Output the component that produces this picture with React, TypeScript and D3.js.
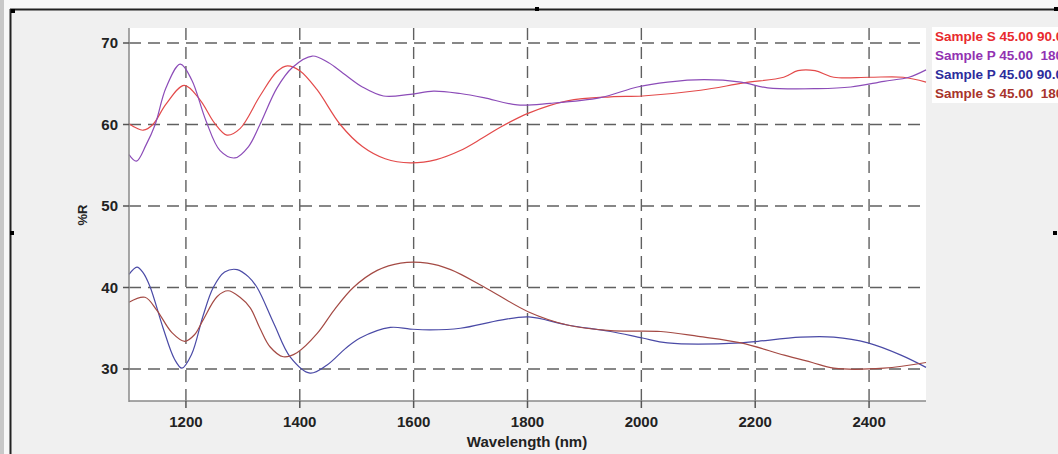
import React from 'react';
import * as d3 from 'd3';

// wavelength (nm), %R pairs
const sampleS90: [number, number][] = [
  [1100, 60.1], [1112, 59.6], [1125, 59.3], [1142, 60.0], [1165, 62.5], [1197, 64.8], [1225, 63.0],
  [1250, 60.2], [1272, 58.7], [1295, 59.5], [1330, 63.5], [1360, 66.5], [1378, 67.2], [1400, 66.6],
  [1430, 64.3], [1471, 60.0], [1510, 57.3], [1550, 55.8], [1594, 55.3], [1640, 55.7], [1682, 56.8],
  [1720, 58.3], [1753, 59.7], [1802, 61.4], [1870, 62.9], [1946, 63.4], [2002, 63.5], [2104, 64.2],
  [2180, 65.1], [2250, 65.8], [2275, 66.6], [2305, 66.6], [2338, 65.8], [2400, 65.8], [2460, 65.8],
  [2500, 65.2],
];

const sampleP180: [number, number][] = [
  [1100, 56.3], [1113, 55.5], [1130, 57.5], [1146, 60.0], [1165, 64.5], [1190, 67.4], [1210, 65.5],
  [1235, 60.5], [1260, 56.8], [1286, 55.9], [1310, 57.3], [1330, 60.0], [1360, 64.5], [1387, 67.0],
  [1422, 68.4], [1450, 67.6], [1476, 66.3], [1510, 64.6], [1547, 63.5], [1594, 63.7], [1635, 64.1],
  [1682, 63.8], [1723, 63.3], [1782, 62.4], [1840, 62.6], [1928, 63.3], [1993, 64.6], [2046, 65.2],
  [2110, 65.5], [2175, 65.2], [2222, 64.5], [2310, 64.4], [2368, 64.6], [2426, 65.3], [2470, 65.8],
  [2500, 66.7],
];

const sampleP90: [number, number][] = [
  [1100, 41.6], [1114, 42.5], [1125, 41.8], [1137, 40.1], [1160, 35.0], [1180, 31.2], [1193, 30.1],
  [1210, 31.8], [1230, 36.5], [1248, 40.0], [1268, 41.9], [1290, 42.2], [1310, 41.3], [1325, 40.0],
  [1355, 35.5], [1383, 31.5], [1418, 29.5], [1448, 30.5], [1480, 32.5], [1506, 33.8], [1559, 35.1],
  [1594, 34.9], [1629, 34.8], [1682, 35.0], [1753, 36.0], [1802, 36.4], [1870, 35.4], [1946, 34.6],
  [2002, 33.8], [2046, 33.2], [2175, 33.2], [2205, 33.4], [2280, 33.9], [2338, 33.9], [2398, 33.2],
  [2456, 31.7], [2500, 30.2],
];

const sampleS180: [number, number][] = [
  [1100, 38.2], [1128, 38.8], [1149, 37.2], [1175, 34.5], [1198, 33.4], [1215, 34.2], [1230, 36.0],
  [1255, 38.9], [1274, 39.6], [1295, 38.8], [1313, 37.5], [1330, 35.0], [1348, 32.7], [1371, 31.5],
  [1395, 32.0], [1431, 34.4], [1460, 37.2], [1494, 40.0], [1536, 42.1], [1577, 43.0], [1624, 43.0],
  [1665, 42.2], [1723, 40.1], [1802, 37.0], [1870, 35.4], [1946, 34.7], [2034, 34.6], [2100, 34.0],
  [2175, 33.2], [2251, 31.7], [2300, 30.8], [2338, 30.1], [2426, 30.1], [2500, 30.8],
];

const seriesNames = ['Sample S 45.00 90.0', 'Sample P 45.00  180', 'Sample P 45.00 90.0', 'Sample S 45.00  180'];
const seriesData = [sampleS90, sampleP180, sampleP90, sampleS180];
const lineColors = ['#e34a4a', '#8c4cb8', '#4a4aa6', '#a44a44'];
const legendColors = ['#e82a2e', '#9232b2', '#2c2c9c', '#a8342c'];

const xTicks = [1200, 1400, 1600, 1800, 2000, 2200, 2400];
const yTicks = [30, 40, 50, 60, 70];

const W = 1058;
const H = 454;
const plot = { left: 129, right: 926, top: 28, bottom: 401 };
const font = '"Liberation Sans", Arial, sans-serif';

export default function App() {
  const x = d3.scaleLinear().domain([1100, 2500]).range([plot.left, plot.right]);
  const y = d3.scaleLinear().domain([70, 30]).range([43, 369]);

  const line = d3.line<[number, number]>()
    .x(d => x(d[0]))
    .y(d => y(d[1]))
    .curve(d3.curveCatmullRom);

  const handles = [[11, 9], [535, 7], [10, 231], [1053, 231], [1054, 7]];

  return (
    <svg width={W} height={H} style={{ position: 'absolute', left: 0, top: 0, display: 'block' }}
      fontFamily={font}>
      {/* window chrome */}
      <rect x={0} y={0} width={W} height={H} fill="#f8f8f8" />
      <rect x={0} y={0} width={4} height={H} fill="#c8c8c8" />
      <rect x={11} y={10} width={W - 11} height={H - 10} fill="#f0f0f0" />
      <line x1={10} x2={W} y1={9.5} y2={9.5} stroke="#222" strokeWidth={2} />
      <line x1={10.5} x2={10.5} y1={9} y2={H} stroke="#222" strokeWidth={2} />
      {handles.map(([hx, hy], i) => (
        <rect key={i} x={hx} y={hy} width={4} height={4} fill="#000" />
      ))}

      {/* plot area */}
      <rect x={plot.left} y={plot.top} width={plot.right - plot.left} height={plot.bottom - plot.top} fill="#fff" />

      {/* grid */}
      <g stroke="#606060" strokeWidth={1.4} strokeDasharray="12 7">
        {yTicks.map(t => (
          <line key={'gy' + t} x1={plot.left} x2={plot.right} y1={y(t)} y2={y(t)} />
        ))}
        {xTicks.map(t => (
          <line key={'gx' + t} x1={x(t)} x2={x(t)} y1={plot.top} y2={plot.bottom} />
        ))}
      </g>

      {/* series */}
      <g fill="none" strokeWidth={1.2}>
        {seriesData.map((s, i) => (
          <path key={i} d={line(s) || ''} stroke={lineColors[i]} />
        ))}
      </g>

      {/* axes */}
      <g stroke="#8a8a8a" strokeWidth={1.5}>
        <line x1={plot.left} x2={plot.left} y1={plot.top} y2={plot.bottom + 1} />
        <line x1={plot.left} x2={plot.right} y1={plot.bottom} y2={plot.bottom} />
        {yTicks.map(t => (
          <line key={'ty' + t} x1={plot.left - 6} x2={plot.left} y1={y(t)} y2={y(t)} stroke="#555" />
        ))}
        {xTicks.map(t => (
          <line key={'tx' + t} x1={x(t)} x2={x(t)} y1={plot.bottom} y2={plot.bottom + 7} stroke="#555" />
        ))}
      </g>

      <g fontSize={15} fontWeight="bold" fill="#222">
        {yTicks.map(t => (
          <text key={'ly' + t} x={118} y={y(t)} dy="0.36em" textAnchor="end">{t}</text>
        ))}
        {xTicks.map(t => (
          <text key={'lx' + t} x={x(t)} y={422} dy="0.36em" textAnchor="middle">{t}</text>
        ))}
      </g>

      <text x={527} y={442} dy="0.36em" textAnchor="middle" fontSize={15} fontWeight="bold" fill="#222">
        Wavelength (nm)
      </text>
      <text transform="translate(82,215) rotate(-90)" textAnchor="middle" dy="0.36em" fontSize={13}
        fontWeight="bold" fill="#222">
        %R
      </text>

      {/* legend */}
      <rect x={932} y={27} width={W - 932} height={76} fill="#fff" />
      <g fontSize={13.5} fontWeight="bold">
        {seriesNames.map((n, i) => (
          <text key={n} x={935} y={36 + i * 19} dy="0.36em" fill={legendColors[i]} style={{ whiteSpace: 'pre' }}>
            {n}
          </text>
        ))}
      </g>
    </svg>
  );
}
